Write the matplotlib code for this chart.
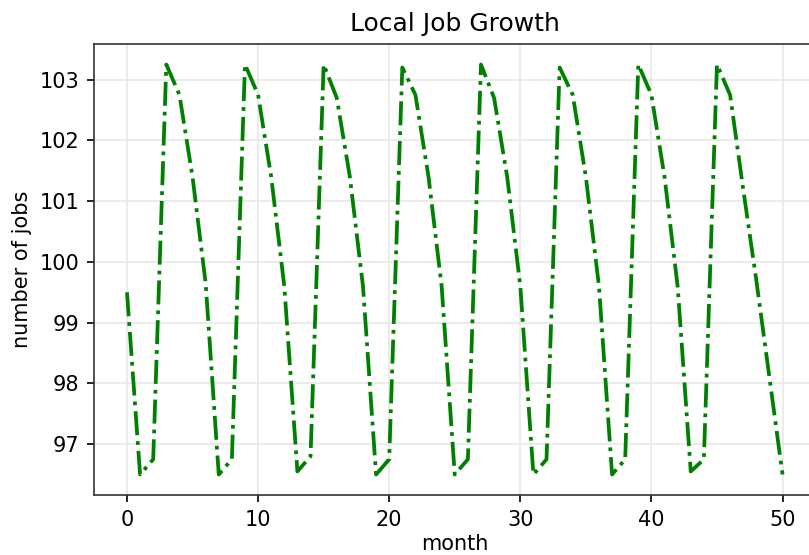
import matplotlib
matplotlib.use("Agg")
import matplotlib.pyplot as plt

months = list(range(51))
jobs = [99.5,
        96.5, 96.75, 103.25, 102.75, 101.4, 99.65,
        96.5, 96.75, 103.25, 102.75, 101.4, 99.6,
        96.55, 96.8, 103.25, 102.7, 101.4, 99.6,
        96.5, 96.75, 103.2, 102.75, 101.4, 99.6,
        96.5, 96.75, 103.25, 102.7, 101.4, 99.6,
        96.5, 96.75, 103.2, 102.75, 101.4, 99.6,
        96.5, 96.75, 103.25, 102.75, 101.4, 99.6,
        96.55, 96.75, 103.25, 102.75, 101.2, 99.7, 98.1, 96.5]

title = "Local Job Growth"
xlabel = "month"
ylabel = "number of jobs"

fig = plt.figure(figsize=(809/150, 555/150), dpi=150)
ax = fig.add_axes([94.2/809, 60/555, (815.3-94.2)/809, 451/555])
ax.plot(months, jobs, color="green", linestyle="-.", linewidth=1.8)
ax.set_xlim(-2.5, 52.5)
ax.grid(True, color="#e8e8e8", linewidth=0.8)
ax.set_axisbelow(True)
ax.set_title(title, fontsize=12)
ax.set_xlabel(xlabel, fontsize=10, labelpad=2)
ax.set_ylabel(ylabel, fontsize=10)
ax.tick_params(labelsize=10)
for s in ax.spines.values():
    s.set_color("#333333")
ax.spines["right"].set_visible(False)
fig.savefig("out.png", dpi=150)
